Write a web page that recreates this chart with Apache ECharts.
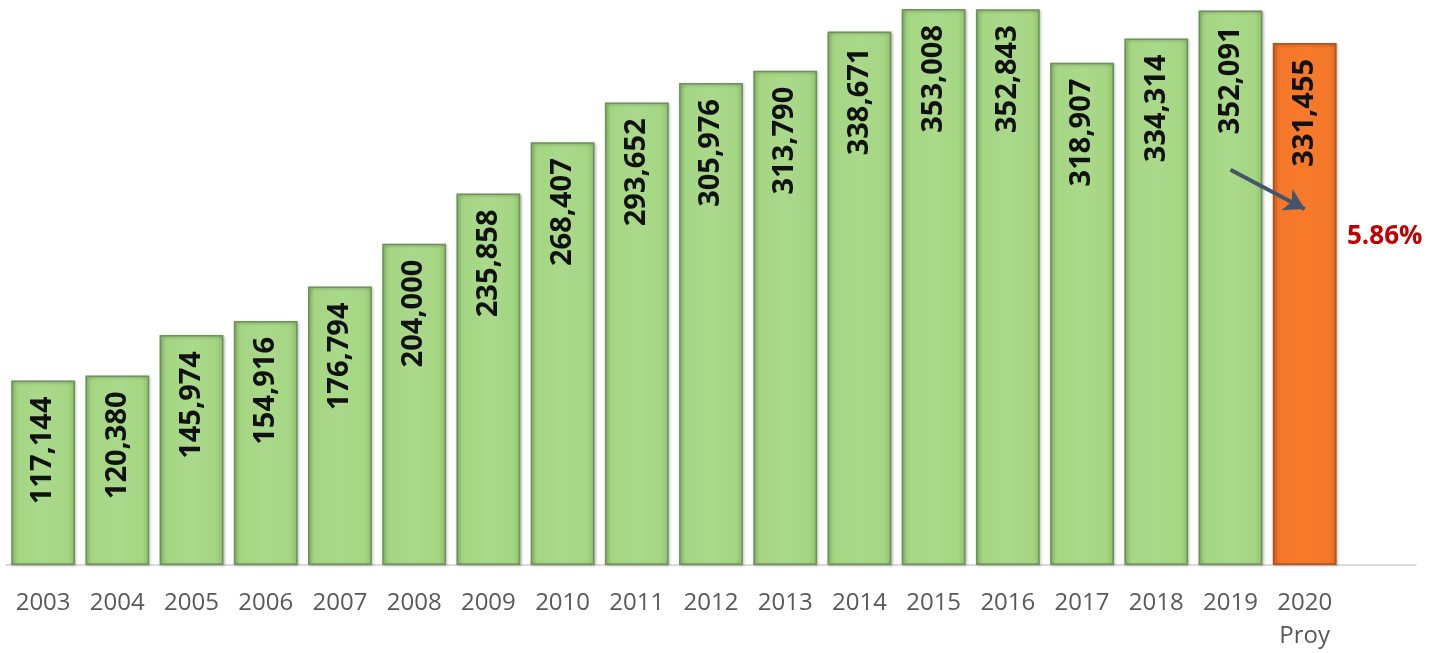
<!DOCTYPE html>
<html>
<head>
<meta charset="utf-8">
<script src="https://cdn.jsdelivr.net/npm/echarts@6/dist/echarts.min.js"></script>
<style>
html,body{margin:0;padding:0;background:#fff;}
#c{width:1433px;height:653px;}
</style>
</head>
<body>
<div id="c"></div>
<script>
const categories = ['2003','2004','2005','2006','2007','2008','2009','2010','2011','2012','2013','2014','2015','2016','2017','2018','2019','2020\nProy'];
const values = [117144,120380,145974,154916,176794,204000,235858,268407,293652,305976,313790,338671,353008,352843,318907,334314,352091,331455];
const changeLabel = '5.86%';
const arrowFrom = ['2019', 251000];
const arrowTo = ['2020\nProy', 226000];

const greenFill = {type:'linear',x:0,y:0,x2:1,y2:0,colorStops:[
  {offset:0,color:'#8fc36e'},{offset:0.12,color:'#a5d683'},{offset:0.5,color:'#a9d98a'},{offset:0.88,color:'#a5d683'},{offset:1,color:'#8fc36e'}]};
const orangeFill = {type:'linear',x:0,y:0,x2:1,y2:0,colorStops:[
  {offset:0,color:'#e0661f'},{offset:0.12,color:'#f5782a'},{offset:0.5,color:'#f77a2b'},{offset:0.88,color:'#f5782a'},{offset:1,color:'#e0661f'}]};

const data = values.map((v,i)=>({
  value:v,
  itemStyle: i===values.length-1
    ? {color:orangeFill,borderColor:'#a85420',borderWidth:1.5}
    : {color:greenFill,borderColor:'#6f8f5c',borderWidth:1.5}
}));

const chart = echarts.init(document.getElementById('c'));
chart.setOption({
  animation:false,
  grid:{left:6,right:17,top:0,bottom:87,containLabel:false},
  xAxis:{
    type:'category',
    data:categories,
    max:18,
    axisLine:{show:true,lineStyle:{color:'#d0d0d0',width:1.5}},
    axisTick:{show:false},
    axisLabel:{color:'#595959',fontFamily:'Open Sans',fontSize:24,margin:22,lineHeight:33,interval:0}
  },
  yAxis:{type:'value',min:0,max:358700,show:false,splitLine:{show:false}},
  series:[{
    type:'bar',
    data:data,
    barCategoryGap:'14%',
    itemStyle:{shadowColor:'rgba(0,0,0,0.25)',shadowBlur:3,shadowOffsetX:1,shadowOffsetY:1},
    label:{
      show:true,
      position:'insideTop',
      rotate:90,
      align:'right',
      verticalAlign:'middle',
      distance:16,
      color:'#111',
      fontFamily:'Open Sans',
      fontWeight:'bold',
      fontSize:29,
      formatter:p=>p.value.toLocaleString('en-US')
    },
    markLine:{
      silent:true,
      symbol:['none','arrow'],
      symbolSize:[18,20],
      label:{show:false},
      lineStyle:{color:'#44546a',width:4,type:'solid'},
      data:[[{coord:arrowFrom},{coord:arrowTo}]]
    }
  }],
  graphic:[{
    type:'text',
    left:1347,
    top:224,
    style:{text:changeLabel,fill:'#c00000',font:'bold 26px "Open Sans"'}
  }]
});
</script>
</body>
</html>
